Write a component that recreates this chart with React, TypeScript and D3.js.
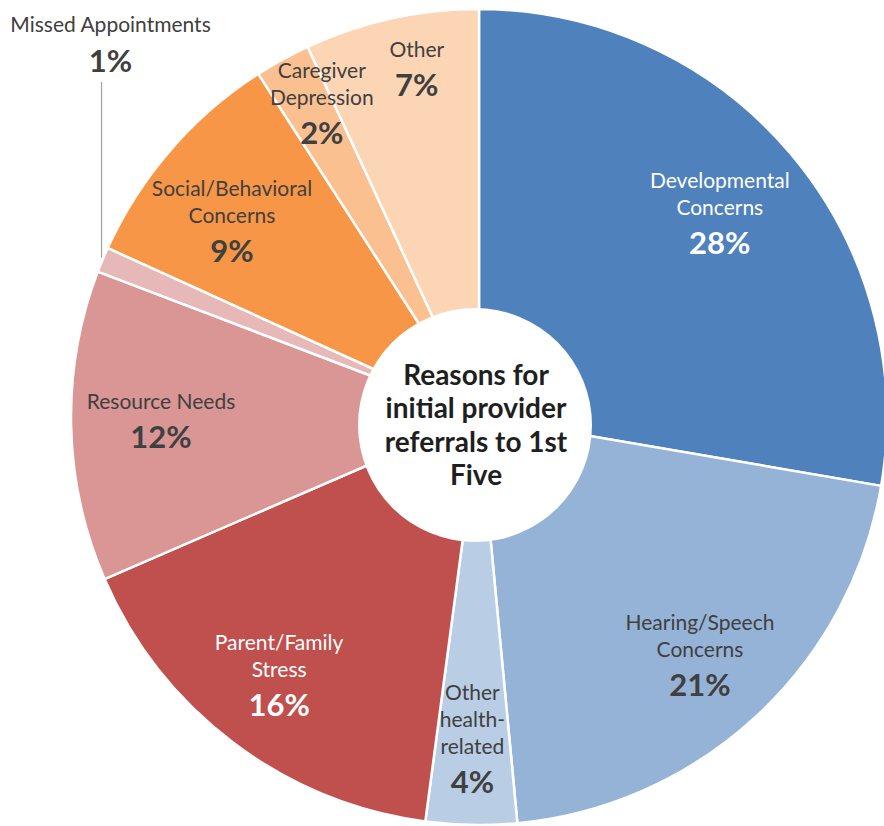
import React from "react";
import * as d3 from "d3";

const categories = [
  "Developmental Concerns",
  "Hearing/Speech Concerns",
  "Other health-related",
  "Parent/Family Stress",
  "Resource Needs",
  "Missed Appointments",
  "Social/Behavioral Concerns",
  "Caregiver Depression",
  "Other",
];
const values = [27.7, 20.8, 3.6, 16.4, 12.3, 1.0, 9.1, 2.2, 6.9];
const percentLabels = ["28%", "21%", "4%", "16%", "12%", "1%", "9%", "2%", "7%"];
const labelLines = [
  ["Developmental", "Concerns"],
  ["Hearing/Speech", "Concerns"],
  ["Other", "health-", "related"],
  ["Parent/Family", "Stress"],
  ["Resource Needs"],
  ["Missed Appointments"],
  ["Social/Behavioral", "Concerns"],
  ["Caregiver", "Depression"],
  ["Other"],
];
const colors = [
  "#4F81BD",
  "#95B3D7",
  "#B9CDE5",
  "#C0504D",
  "#D99694",
  "#E6B9B8",
  "#F79646",
  "#FAC090",
  "#FCD5B5",
];
const textColors = ["#ffffff", "#404040", "#404040", "#ffffff", "#404040", "#404040", "#404040", "#404040", "#404040"];
// label radial distance (px from centre); null => outside label with leader
const labelRadius: (number | null)[] = [315, 325, 322, 327, 318, null, 315, 351, 354];
// small angular nudge of each label from its slice's mid-angle (degrees)
const labelAngleShift = [0, 0, 0.1, 0.6, 0.6, 0, -2.5, 2.2, 2.3];
const titleLines = ["Reasons for", "initial provider", "referrals to 1st", "Five"];

const W = 884;
const H = 826;
const cx = 479;
const cy = 417;
const R = 408;
const FONT = "Lato, 'Open Sans', sans-serif";
const LABEL_SIZE = 21;
const PCT_SIZE = 31;

export default function App() {
  const pie = d3.pie<number>().sort(null).value((d) => d)(values);
  const arc = d3.arc<d3.PieArcDatum<number>>().innerRadius(0).outerRadius(R);
  const LH = 27;
  const PG = 39;

  return (
    <svg width={W} height={H} style={{ position: "absolute", left: 0, top: 0, background: "#fff" }}>
      <g transform={`translate(${cx},${cy})`}>
        {pie.map((p, i) => (
          <path key={i} d={arc(p) || ""} fill={colors[i]} stroke="#fff" strokeWidth={2.5} strokeLinejoin="round" />
        ))}
      </g>
      <circle cx={cx - 4} cy={cy + 8} r={117} fill="#fff" />
      {pie.map((p, i) => {
        const mid = (p.startAngle + p.endAngle) / 2 + (labelAngleShift[i] * Math.PI) / 180;
        const lines = labelLines[i];
        const n = lines.length;
        const r = labelRadius[i];
        if (r === null) {
          const m0 = (p.startAngle + p.endAngle) / 2;
          const lx = cx + R * Math.sin(m0);
          const ly = cy - R * Math.cos(m0);
          const topY = 82;
          return (
            <g key={i}>
              <line x1={lx - 1} y1={ly - 2} x2={lx - 1} y2={topY} stroke="#A6A6A6" strokeWidth={1.3} />
              <text x={lx + 8} y={topY - 50} textAnchor="middle" fontFamily={FONT} fontSize={LABEL_SIZE} fill={textColors[i]}>
                {lines[0]}
              </text>
              <text x={lx + 8} y={topY - 10} textAnchor="middle" fontFamily={FONT} fontSize={PCT_SIZE} fontWeight={700} fill={textColors[i]}>
                {percentLabels[i]}
              </text>
            </g>
          );
        }
        const bx = cx + r * Math.sin(mid);
        const by = cy - r * Math.cos(mid);
        const y0 = by - 12 - 13.5 * (n - 1);
        return (
          <g key={i} fontFamily={FONT} fill={textColors[i]} textAnchor="middle">
            {lines.map((t, j) => (
              <text key={j} x={bx} y={y0 + j * LH} fontSize={LABEL_SIZE}>
                {t}
              </text>
            ))}
            <text x={bx} y={y0 + (n - 1) * LH + PG} fontSize={PCT_SIZE} fontWeight={700}>
              {percentLabels[i]}
            </text>
          </g>
        );
      })}
      <g fontFamily={FONT} fontWeight={700} fontSize={28} fill="#1F1F1F" textAnchor="middle">
        {titleLines.map((t, j) => (
          <text key={j} x={cx - 3} y={385 + j * 33.3}>
            {t}
          </text>
        ))}
      </g>
    </svg>
  );
}
